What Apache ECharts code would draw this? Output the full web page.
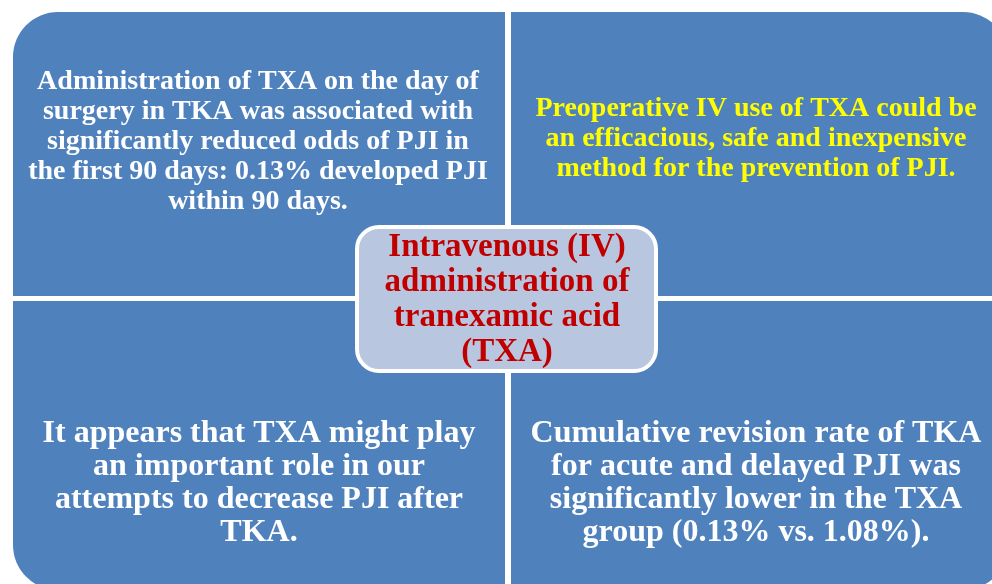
<!DOCTYPE html>
<html lang="en">
<head>
    <meta charset="UTF-8">
    <title>txa-summary</title>
    <script src="https://cdn.jsdelivr.net/npm/echarts@6.0.0/dist/echarts.min.js"></script>
    <style>
        html, body { margin: 0; padding: 0; background: #fff; }
    </style>
</head>
<body>
<div id="main" style="width: 992px;height:584px;"></div>
<script>
    // texts of the four boxes and the centre box
    var topLeftLines = [
        'Administration of TXA on the day of',
        'surgery in TKA was associated with',
        'significantly reduced odds of PJI in',
        'the first 90 days: 0.13% developed PJI',
        'within 90 days.'
    ];
    var topRightLines = [
        'Preoperative IV use of TXA could be',
        'an efficacious, safe and inexpensive',
        'method for the prevention of PJI.'
    ];
    var bottomLeftLines = [
        'It appears that TXA might play',
        'an important role in our',
        'attempts to decrease PJI after',
        'TKA.'
    ];
    var bottomRightLines = [
        'Cumulative revision rate of TKA',
        'for acute and delayed PJI was',
        'significantly lower in the TXA',
        'group (0.13% vs. 1.08%).'
    ];
    var centerLines = [
        'Intravenous (IV)',
        'administration of',
        'tranexamic acid',
        '(TXA)'
    ];

    var blue = '#4F81BD';
    var serif = '"Liberation Serif", "Times New Roman", serif';

    function box(x, y, w, h, r) {
        return {
            type: 'rect',
            shape: { x: x, y: y, width: w, height: h, r: r },
            style: { fill: blue }
        };
    }

    function label(lines, x, y, size, lh, color) {
        return {
            type: 'text',
            z: 10,
            style: {
                text: lines.join('\n'),
                x: x,
                y: y,
                font: 'bold ' + size + 'px ' + serif,
                lineHeight: lh,
                fill: color,
                align: 'center',
                verticalAlign: 'middle'
            }
        };
    }

    var chart = echarts.init(document.getElementById('main'));
    var option = {
        backgroundColor: '#ffffff',
        graphic: [
            box(13, 12, 492, 284, [45, 0, 0, 0]),
            box(511, 12, 497, 284, [0, 45, 0, 0]),
            box(13, 301, 492, 289, [0, 0, 0, 45]),
            box(511, 301, 497, 289, [0, 0, 45, 0]),
            {
                type: 'rect',
                z: 5,
                shape: { x: 357, y: 227, width: 299, height: 144, r: 22 },
                style: { fill: '#B8C7DF', stroke: '#ffffff', lineWidth: 4 }
            },
            label(topLeftLines, 258, 142, 28, 30, '#ffffff'),
            label(topRightLines, 756, 139, 28, 30, '#FFFF00'),
            label(bottomLeftLines, 259, 483, 32, 33, '#ffffff'),
            label(bottomRightLines, 756, 483, 32, 33, '#ffffff'),
            label(centerLines, 507, 300, 33, 35, '#C00000')
        ]
    };
    chart.setOption(option);
</script>
</body>
</html>
